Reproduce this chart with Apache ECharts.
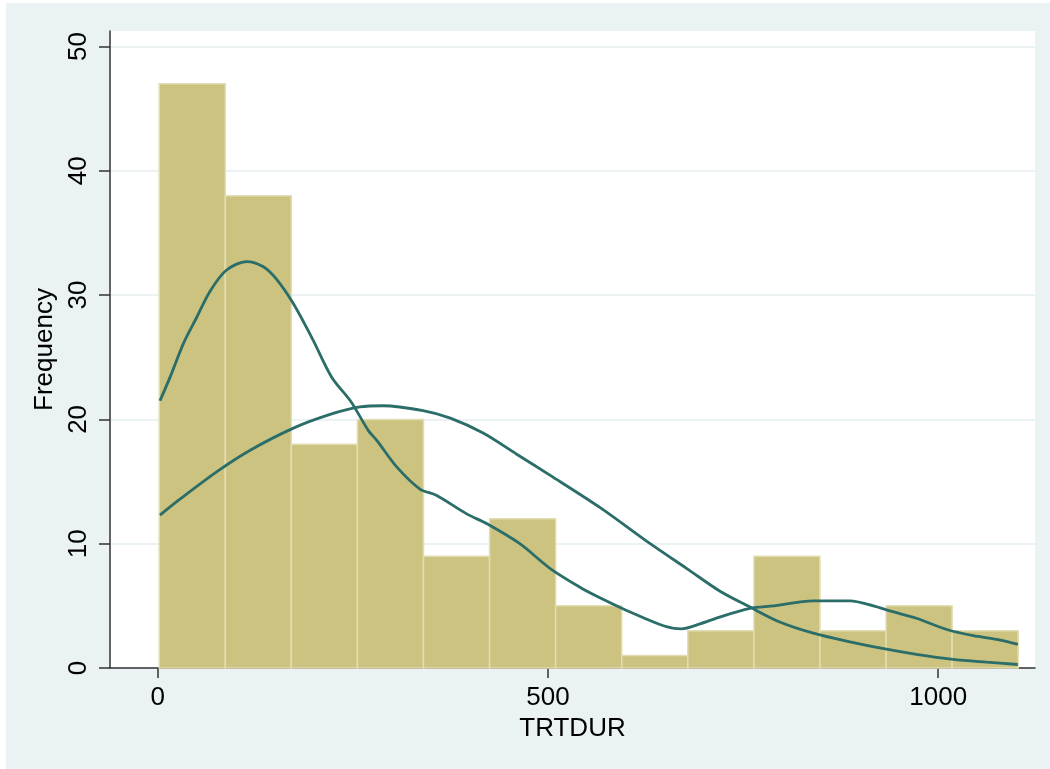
<!DOCTYPE html>
<html>
<head>
<meta charset="utf-8">
<script src="https://cdn.jsdelivr.net/npm/echarts@6/dist/echarts.min.js"></script>
<style>
  html, body { margin: 0; background: #fff; }
  #main { width: 1050px; height: 769px; }
</style>
</head>
<body>
<div id="main"></div>
<script>
// histogram bins of TRTDUR (edges) and frequencies
var binEdges = [2, 86.7, 171.3, 256, 340.6, 425.3, 509.9, 594.6, 679.2, 763.9, 848.5, 933.2, 1017.8, 1102.5];
var counts = [47, 38, 18, 20, 9, 12, 5, 1, 3, 9, 3, 5, 3];

// kernel density curve (scaled to frequency)
var kdensX = [3, 16, 33, 50, 67, 88, 114, 135, 152, 174, 199, 223, 248, 270, 281, 306, 336, 357, 396, 422, 464, 503, 541, 562, 609, 648, 671, 695, 720, 759, 789, 840, 887, 917, 938, 972, 1011, 1045, 1075, 1102];
var kdensY = [21.5, 23.4, 26.1, 28.2, 30.3, 32.0, 32.7, 32.3, 31.3, 29.3, 26.4, 23.4, 21.4, 19.1, 18.3, 16.2, 14.4, 13.9, 12.4, 11.6, 10.0, 8.0, 6.5, 5.8, 4.4, 3.4, 3.15, 3.55, 4.1, 4.8, 5.0, 5.4, 5.4, 5.0, 4.6, 4.0, 3.1, 2.6, 2.3, 1.9];

// normal density curve (scaled to frequency)
var normX = [3, 29, 76, 118, 174, 221, 259, 289, 340, 375, 417, 460, 503, 567, 631, 678, 720, 759, 797, 840, 887, 930, 972, 1019, 1062, 1102];
var normY = [12.3, 13.6, 15.8, 17.5, 19.3, 20.4, 21.0, 21.1, 20.7, 20.1, 18.9, 17.2, 15.5, 12.9, 10.0, 8.0, 6.2, 4.9, 3.7, 2.8, 2.1, 1.55, 1.1, 0.7, 0.47, 0.28];

var xTicks = [0, 500, 1000];
var yTicks = [0, 10, 20, 30, 40, 50];

var barData = counts.map(function (c, i) { return [binEdges[i], binEdges[i + 1], c]; });
var kdens = kdensX.map(function (x, i) { return [x, kdensY[i]]; });
var norm = normX.map(function (x, i) { return [x, normY[i]]; });

var font = "'Liberation Sans', Arial, sans-serif";
var chart = echarts.init(document.getElementById('main'), null, { renderer: 'canvas' });

var option = {
  animation: false,
  backgroundColor: '#fff',
  graphic: [{
    type: 'rect', z: -10, silent: true,
    shape: { x: 6, y: 3, width: 1044, height: 766 },
    style: { fill: '#eaf2f3' }
  }],
  grid: {
    left: 110, right: 15, top: 31, bottom: 101,
    show: true, backgroundColor: '#fff', borderWidth: 0
  },
  xAxis: {
    type: 'value',
    min: -61, max: 1124,
    name: 'TRTDUR',
    nameLocation: 'middle',
    nameGap: 44,
    nameTextStyle: { fontFamily: font, fontSize: 26, color: '#000' },
    axisLine: { show: true, onZero: false, lineStyle: { color: '#333', width: 1.5 } },
    axisTick: { show: true, length: 10, customValues: xTicks, lineStyle: { color: '#333', width: 1.5 } },
    axisLabel: {
      customValues: xTicks, fontFamily: font, fontSize: 26, color: '#000', margin: 17,
      formatter: function (v) { return String(v); }
    },
    splitLine: { show: false }
  },
  yAxis: {
    type: 'value',
    min: 0, max: 51.25,
    name: 'Frequency',
    nameLocation: 'middle',
    nameGap: 48,
    nameTextStyle: { fontFamily: font, fontSize: 26, color: '#000' },
    axisLine: { show: true, onZero: false, lineStyle: { color: '#333', width: 1.5 } },
    axisTick: { show: true, length: 11, customValues: yTicks, lineStyle: { color: '#333', width: 1.5 } },
    axisLabel: { customValues: yTicks, rotate: 90, fontFamily: font, fontSize: 26, color: '#000', margin: 18 },
    splitLine: { show: true, lineStyle: { color: '#eaf2f3', width: 2 } }
  },
  series: [
    {
      type: 'custom',
      data: barData,
      encode: { x: [0, 1], y: 2 },
      renderItem: function (params, api) {
        var p0 = api.coord([api.value(0), api.value(2)]);
        var p1 = api.coord([api.value(1), 0]);
        return {
          type: 'rect',
          shape: { x: p0[0], y: p0[1], width: p1[0] - p0[0], height: p1[1] - p0[1] },
          style: { fill: '#cbc37f', stroke: '#e2ddb4', lineWidth: 1.5 }
        };
      },
      z: 2
    },
    {
      type: 'line',
      data: kdens,
      smooth: 0.3,
      showSymbol: false,
      lineStyle: { color: '#2b6d68', width: 2.8 },
      z: 3
    },
    {
      type: 'line',
      data: norm,
      smooth: 0.3,
      showSymbol: false,
      lineStyle: { color: '#2b6d68', width: 2.8 },
      z: 3
    }
  ]
};

chart.setOption(option);
</script>
</body>
</html>
